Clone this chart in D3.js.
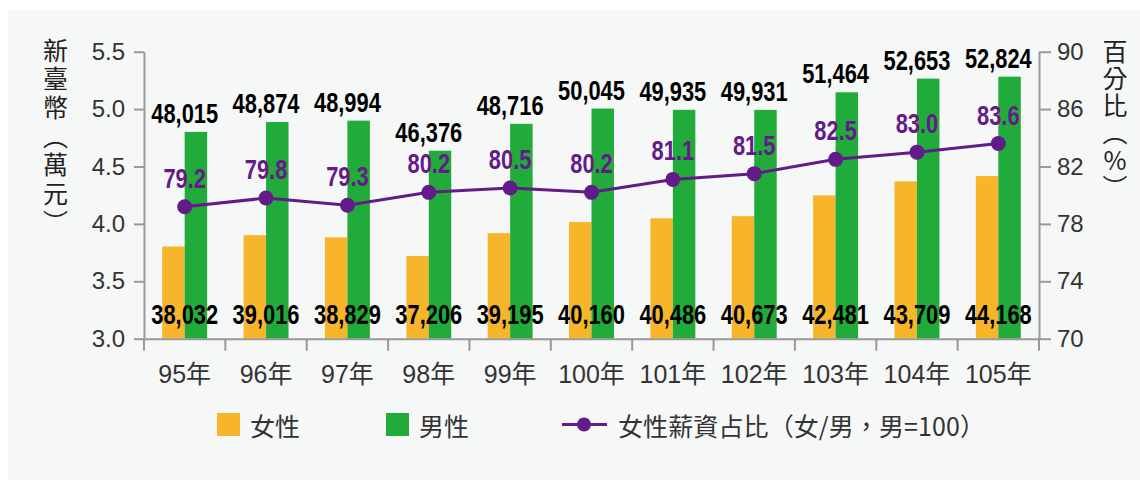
<!DOCTYPE html>
<html>
<head>
<meta charset="utf-8">
<script src="https://cdn.jsdelivr.net/npm/d3@7/dist/d3.min.js"></script>
<style>
  html, body { margin: 0; padding: 0; background: #fff; }
  svg { display: block; }
</style>
</head>
<body>
<div id="chart"></div>
<script>
// data
var years = ["95年", "96年", "97年", "98年", "99年", "100年", "101年", "102年", "103年", "104年", "105年"];
var female = [38032, 39016, 38829, 37206, 39195, 40160, 40486, 40673, 42481, 43709, 44168];
var male = [48015, 48874, 48994, 46376, 48716, 50045, 49935, 49931, 51464, 52653, 52824];
var ratio = [79.2, 79.8, 79.3, 80.2, 80.5, 80.2, 81.1, 81.5, 82.5, 83.0, 83.6];
var leftTicks = [3.0, 3.5, 4.0, 4.5, 5.0, 5.5];
var rightTicks = [70, 74, 78, 82, 86, 90];

var W = 1140, H = 480;
var plot = {left: 144, right: 1039, top: 51.7, bottom: 338.7};

var cFemale = "#f7b52c", cMale = "#21ab3a", cPurple = "#621b89";
var numFont = "'Liberation Sans', 'Noto Sans CJK TC', sans-serif";
var cjkFont = "'Noto Sans CJK TC', sans-serif";

var svg = d3.select("#chart").append("svg")
    .attr("width", W)
    .attr("height", H);

// light panel
svg.append("rect")
    .attr("x", 8).attr("y", 10)
    .attr("width", W - 8).attr("height", H - 10)
    .attr("fill", "#f6f7f7");

// scales
var x = d3.scaleBand()
    .domain(years)
    .range([plot.left, plot.right])
    .padding(0);

var x1 = d3.scaleBand()
    .domain(["f", "m"])
    .range([0, x.bandwidth()])
    .paddingInner(0)
    .paddingOuter(0.81);

var y = d3.scaleLinear()
    .domain([3.0, 5.5])
    .range([plot.bottom, plot.top]);

var y2 = d3.scaleLinear()
    .domain([70, 90])
    .range([plot.bottom, plot.top]);

function mid(i) { return x(years[i]) + x.bandwidth() / 2; }

// bars
var g = svg.append("g");
years.forEach(function(d, i) {
  g.append("rect")
    .attr("x", x(d) + x1("f"))
    .attr("y", y(female[i] / 10000))
    .attr("width", x1.bandwidth())
    .attr("height", y(3.0) - y(female[i] / 10000))
    .attr("fill", cFemale);
  g.append("rect")
    .attr("x", x(d) + x1("m"))
    .attr("y", y(male[i] / 10000))
    .attr("width", x1.bandwidth())
    .attr("height", y(3.0) - y(male[i] / 10000))
    .attr("fill", cMale);
});

// axes
function styleAxis(sel) {
  sel.select(".domain").attr("stroke", "#999").attr("stroke-width", 2);
  sel.selectAll(".tick line").attr("stroke", "#999").attr("stroke-width", 2);
  sel.selectAll(".tick text").attr("fill", "#333");
}

var yAxis = svg.append("g")
    .attr("transform", "translate(" + plot.left + ",0)")
    .call(d3.axisLeft(y).tickValues(leftTicks).tickFormat(d3.format(".1f"))
      .tickSize(10).tickSizeOuter(0).tickPadding(9))
    .attr("font-family", numFont).attr("font-size", 24);
styleAxis(yAxis);

var y2Axis = svg.append("g")
    .attr("transform", "translate(" + plot.right + ",0)")
    .call(d3.axisRight(y2).tickValues(rightTicks)
      .tickSize(12).tickSizeOuter(0).tickPadding(6))
    .attr("font-family", numFont).attr("font-size", 24);
styleAxis(y2Axis);

var xAxis = svg.append("g")
    .attr("transform", "translate(0," + plot.bottom + ")")
    .call(d3.axisBottom(x).tickSize(0).tickPadding(27))
    .attr("font-family", numFont).attr("font-size", 25);
styleAxis(xAxis);
xAxis.selectAll(".tick text").attr("dy", "0.71em");

// ticks at the band edges
var edges = years.map(function(d) { return x(d); }).concat([plot.right]);
xAxis.selectAll(".edge")
  .data(edges)
  .enter().append("line")
    .attr("x1", function(d) { return d; })
    .attr("x2", function(d) { return d; })
    .attr("y1", 0).attr("y2", 12)
    .attr("stroke", "#999").attr("stroke-width", 2);

// ratio line
var line = d3.line()
    .x(function(d, i) { return mid(i); })
    .y(function(d) { return y2(d); });

svg.append("path")
    .datum(ratio)
    .attr("d", line)
    .attr("fill", "none")
    .attr("stroke", cPurple)
    .attr("stroke-width", 3);

svg.selectAll(".dot")
  .data(ratio)
  .enter().append("circle")
    .attr("cx", function(d, i) { return mid(i); })
    .attr("cy", function(d) { return y2(d); })
    .attr("r", 7.5)
    .attr("fill", cPurple);

// value labels (condensed bold, squeezed horizontally)
var fmt = d3.format(",");
var squeeze = 0.81;
var labels = svg.append("g")
    .attr("font-family", numFont)
    .attr("font-weight", "bold")
    .attr("font-size", 27)
    .attr("text-anchor", "middle");

function addLabels(data, yFn, color, txt) {
  labels.append("g").selectAll("text")
    .data(data)
    .enter().append("text")
      .attr("transform", function(d, i) {
        return "translate(" + mid(i) + "," + yFn(d) + ") scale(" + squeeze + ",1)";
      })
      .attr("fill", color)
      .text(txt);
}

addLabels(male, function(d) { return y(d / 10000) - 9; }, "#000", function(d) { return fmt(d); });
addLabels(female, function() { return 324; }, "#000", function(d) { return fmt(d); });
addLabels(ratio, function(d) { return y2(d) - 19; }, cPurple, function(d) { return d.toFixed(1); });

// vertical axis titles
svg.append("text")
    .attr("x", 55.5).attr("y", 37.5)
    .attr("font-family", cjkFont).attr("font-size", 25).attr("fill", "#222")
    .style("writing-mode", "vertical-rl")
    .style("text-orientation", "upright")
    .style("letter-spacing", "3.7px")
    .text("新臺幣（萬元）");

svg.append("text")
    .attr("x", 1115).attr("y", 38.5)
    .attr("font-family", cjkFont).attr("font-size", 25).attr("fill", "#222")
    .style("writing-mode", "vertical-rl")
    .style("text-orientation", "upright")
    .style("letter-spacing", "2.3px")
    .text("百分比（%）");

// legend
var legend = svg.append("g")
    .attr("font-family", cjkFont).attr("font-size", 25).attr("fill", "#333");

legend.append("rect").attr("x", 217).attr("y", 413).attr("width", 23).attr("height", 23).attr("fill", cFemale);
legend.append("text").attr("x", 250).attr("y", 424.5).attr("dominant-baseline", "central").text("女性");

legend.append("rect").attr("x", 386).attr("y", 413).attr("width", 23).attr("height", 23).attr("fill", cMale);
legend.append("text").attr("x", 419).attr("y", 424.5).attr("dominant-baseline", "central").text("男性");

legend.append("line").attr("x1", 562).attr("x2", 607).attr("y1", 424.5).attr("y2", 424.5)
    .attr("stroke", cPurple).attr("stroke-width", 3);
legend.append("circle").attr("cx", 584).attr("cy", 424.5).attr("r", 7).attr("fill", cPurple);
legend.append("text").attr("x", 618).attr("y", 424.5).attr("dominant-baseline", "central")
    .attr("textLength", 367).attr("lengthAdjust", "spacing")
    .text("女性薪資占比（女/男，男=100）");
</script>
</body>
</html>
